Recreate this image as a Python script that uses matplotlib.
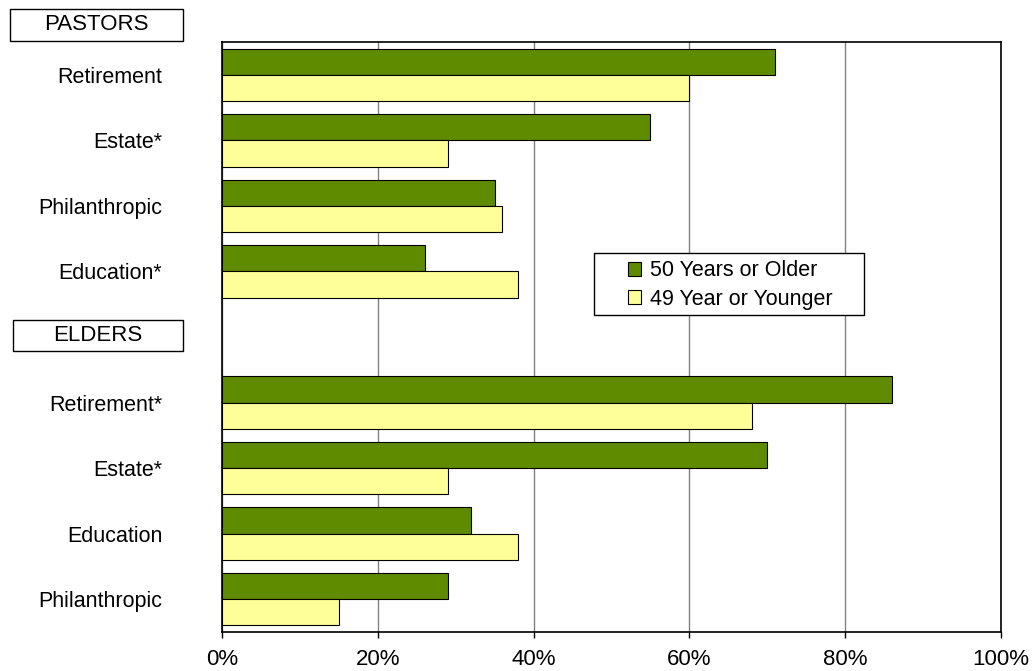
import matplotlib.pyplot as plt
from matplotlib.patches import Rectangle
from matplotlib.ticker import PercentFormatter

plt.rcParams['font.family'] = ['Liberation Sans', 'DejaVu Sans']

# Anteile je Planungsbereich, Pastoren oben, Älteste unten
pastor_labels = ["Retirement", "Estate*", "Philanthropic", "Education*"]
pastor_older = [71, 55, 35, 26]
pastor_younger = [60, 29, 36, 38]

elder_labels = ["Retirement*", "Estate*", "Education", "Philanthropic"]
elder_older = [86, 70, 32, 29]
elder_younger = [68, 29, 38, 15]

series_names = ["50 Years or Older", "49 Year or Younger"]
x_ticks = [0, 20, 40, 60, 80, 100]

gruen = "#5f8b00"
gelb = "#ffff99"

W, H = 1036, 671
fig = plt.figure(figsize=(W / 100, H / 100), dpi=100)
ax = fig.add_axes([222 / W, 1 - 632 / H, (1001 - 222) / W, (632 - 42) / H])

# Zeile 4 bleibt frei für die Überschrift ELDERS
pos = list(range(4)) + list(range(5, 9))
older = pastor_older + elder_older
younger = pastor_younger + elder_younger
labels = pastor_labels + elder_labels

h = 0.4
ax.barh([p - h / 2 for p in pos], older, height=h, color=gruen, edgecolor="black",
        linewidth=0.8, label=series_names[0], zorder=3)
ax.barh([p + h / 2 for p in pos], younger, height=h, color=gelb, edgecolor="black",
        linewidth=0.8, label=series_names[1], zorder=3)

ax.set_xlim(0, 100)
ax.set_ylim(8.5, -0.5)
ax.set_xticks(x_ticks)
ax.xaxis.set_major_formatter(PercentFormatter(decimals=0))
ax.set_yticks(pos)
ax.set_yticklabels(labels)
ax.tick_params(axis="y", length=0, pad=43, labelsize=15.5)
ax.tick_params(axis="x", length=4, width=1, direction="out", pad=8, labelsize=16)
ax.grid(axis="x", color="#808080", linewidth=1, zorder=0)
for s in ax.spines.values():
    s.set_color("black")
    s.set_linewidth(1.2)


# Rahmen in Pixeln (von oben links gemessen)
def rahmen(x0, y0, x1, y1, z=1):
    r = Rectangle((x0 / W, 1 - y1 / H), (x1 - x0) / W, (y1 - y0) / H,
                  transform=fig.transFigure, facecolor="white",
                  edgecolor="black", linewidth=1, zorder=z)
    fig.patches.append(r)


# Gruppenüberschriften in Kästen
def kasten(text, x0, y0, x1, y1):
    rahmen(x0, y0, x1, y1)
    fig.text((x0 + x1) / 2 / W, 1 - (y0 + y1) / 2 / H, text, ha="center",
             va="center", fontsize=16)


kasten("PASTORS", 10, 9, 183, 41)
kasten("ELDERS", 13, 320, 183, 351)

# Legende mit eigenem Rahmen
leg = fig.legend(loc="upper left", bbox_to_anchor=(624 / W, 1 - 256 / H),
                 fontsize=15.5, frameon=False, handlelength=0.6, handleheight=0.6,
                 handletextpad=0.4, borderpad=0.2, labelspacing=0.35, borderaxespad=0)
leg.set_zorder(6)
r = Rectangle((594 / W, 1 - 315 / H), (864 - 594) / W, (315 - 253) / H,
              transform=fig.transFigure, facecolor="white", edgecolor="black",
              linewidth=1, zorder=5)
fig.add_artist(r)

fig.savefig("out.png", dpi=100)
